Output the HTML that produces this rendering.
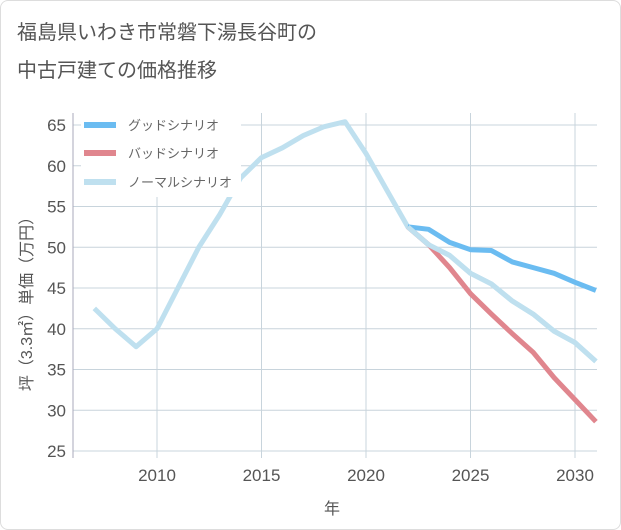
<!DOCTYPE html>
<html><head><meta charset="utf-8"><style>
body{margin:0;background:#fff;font-family:"Liberation Sans","Noto Sans CJK JP",sans-serif}
#wrap{position:relative;width:621px;height:530px}
#frame{position:absolute;left:0;top:0;width:619px;height:528px;border:1px solid #ddd;border-radius:8px;box-sizing:content-box}
#title{position:absolute;left:17px;top:14px;font-size:20px;line-height:38px;color:#555}
svg{position:absolute;left:0;top:0}
</style></head><body>
<div id="wrap">
<div id="frame"></div>
<div id="title">福島県いわき市常磐下湯長谷町の<br>中古戸建ての価格推移</div>
<svg id="svg" width="621" height="530"></svg>
</div>
<script>
const years=[2007,2008,2009,2010,2011,2012,2013,2014,2015,2016,2017,2018,2019,2020,2021,2022,2023,2024,2025,2026,2027,2028,2029,2030,2031];
const normal=[42.5,40,37.8,40,45,50,54,58.5,61,62.2,63.7,64.8,65.4,61.5,57,52.5,50.3,49,46.8,45.5,43.4,41.8,39.7,38.3,36];
const goodYears=[2022,2023,2024,2025,2026,2027,2028,2029,2030,2031];
const good=[52.5,52.2,50.6,49.7,49.6,48.2,47.5,46.8,45.7,44.7];
const bad=[52.5,50.3,47.5,44.3,41.8,39.4,37.1,34,31.3,28.6];
const xTicks=[2010,2015,2020,2025,2030];
const yTicks=[25,30,35,40,45,50,55,60,65];
const X=v=>157+(v-2010)*20.9;
const Y=v=>451-(v-25)*8.15;
const svg=document.getElementById('svg');
const NS='http://www.w3.org/2000/svg';
function mk(t,a){const e=document.createElementNS(NS,t);for(const k in a)e.setAttribute(k,a[k]);svg.appendChild(e);return e;}
const L=73,R=597,T=113,B=458;
xTicks.forEach(t=>{const l=mk('line',{x1:X(t),x2:X(t),y1:T,y2:B,stroke:'#c8d4dc','stroke-width':1});


const tx=mk('text',{x:X(t),y:481,'text-anchor':'middle','font-size':17,fill:'#555'});tx.textContent=t;

});
yTicks.forEach(t=>{const l=mk('line',{x1:L,x2:R,y1:Y(t),y2:Y(t),stroke:'#c8d4dc','stroke-width':1});


const tx=mk('text',{x:66,y:Y(t)+6,'text-anchor':'end','font-size':17,fill:'#555'});tx.textContent=t;

});
const ax=mk('line',{x1:L,x2:L,y1:T,y2:B,stroke:'#aab','stroke-width':1});


function series(xs,ys,c,name){const p=mk('polyline',{points:xs.map((x,i)=>X(x)+','+Y(ys[i])).join(' '),fill:'none',stroke:c,'stroke-width':5,'stroke-linejoin':'round'});

}
series(years,normal,'#bfe0ef','normal-scenario-line');
series(goodYears,bad,'#e0868e','bad-scenario-line');
series(goodYears,good,'#6bbcf1','good-scenario-line');
series(years.slice(15),normal.slice(15),'#bfe0ef','normal-scenario-line-tail');
const lb=mk('rect',{x:81,y:113,width:160,height:84,fill:'#fff'});


[['グッドシナリオ','#6bbcf1',125],['バッドシナリオ','#e0868e',153],['ノーマルシナリオ','#bfe0ef',182]].forEach(([n,c,y])=>{
const l=mk('line',{x1:84,x2:116,y1:y,y2:y,stroke:c,'stroke-width':6});


const t=mk('text',{x:128,y:y+5,'font-size':13,fill:'#666'});t.textContent=n;

});
const xt=mk('text',{x:332,y:514,'text-anchor':'middle','font-size':16,fill:'#555'});xt.textContent='年';


const yt=mk('text',{x:0,y:0,'text-anchor':'middle','font-size':16,fill:'#555',transform:'translate(32,300) rotate(-90)'});yt.textContent='坪（3.3㎡）単価（万円）';


</script>
</body></html>
